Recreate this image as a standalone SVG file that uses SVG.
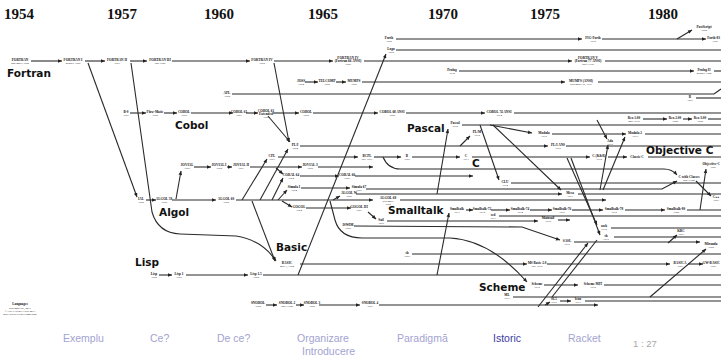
<svg xmlns="http://www.w3.org/2000/svg" width="721" height="358" viewBox="0 0 721 358">
<style>
.yr{font:bold 15px "Liberation Serif",serif;fill:#111}
.fam{font:bold 10.5px "DejaVu Sans",sans-serif;fill:#111}
.nm{font:bold 3.4px "Liberation Serif",serif;text-anchor:middle;fill:#111}
.dt{font:2.8px "Liberation Serif",serif;text-anchor:middle;fill:#222}
.end{text-anchor:end}
.ln{fill:none;stroke:#2a2a2a;stroke-width:1.1}
.la{fill:none;stroke:#2a2a2a;stroke-width:1.1;marker-end:url(#ah)}
.nav{font:10.5px "Liberation Sans",sans-serif;fill:#a3a3d1}
.cur{fill:#3b3b9e}
.pg{font:9.5px "Liberation Sans",sans-serif;fill:#a8a8a8}
</style>
<defs>
<marker id="ah" viewBox="0 0 10 10" refX="10" refY="5" markerWidth="5" markerHeight="4" markerUnits="userSpaceOnUse" orient="auto"><path d="M0,0.5 L10,5 L0,9.5 z" fill="#222"/></marker>
</defs>
<rect width="721" height="358" fill="#fff"/>

<g id="years">
<text class="yr" x="4" y="19">1954</text>
<text class="yr" x="107" y="19">1957</text>
<text class="yr" x="204" y="19">1960</text>
<text class="yr" x="308" y="19">1965</text>
<text class="yr" x="428" y="19">1970</text>
<text class="yr" x="530" y="19">1975</text>
<text class="yr" x="648" y="19">1980</text>
</g>

<g id="connectors">
<path class="la" d="M31,61H62"/><path class="la" d="M85,61H105"/><path class="la" d="M130,61H147"/><path class="la" d="M172,61H250"/><path class="la" d="M274,61H333"/><path class="la" d="M364,61H572"/><path class="ln" d="M605,61H721"/>
<path class="la" d="M396,39H582"/><path class="la" d="M602,39H706"/><path class="la" d="M677,39L692,30"/>
<path class="ln" d="M396,50H721"/>
<path class="la" d="M459,71H694"/><path class="ln" d="M714,71H721"/>
<path class="la" d="M305,82H318"/><path class="la" d="M336,82H346"/><path class="la" d="M362,82H565"/><path class="ln" d="M598,82H721"/>
<path class="ln" d="M232,94H714L721,89"/><path class="ln" d="M696,98H721"/>
<path class="la" d="M130,113H146"/><path class="la" d="M164,113H177"/><path class="la" d="M191,113H233"/><path class="la" d="M246,113H258"/><path class="la" d="M273,113H299"/><path class="la" d="M313,113H378"/><path class="la" d="M406,113H485"/><path class="ln" d="M514,113H721"/>
<path class="la" d="M643,119H667"/><path class="la" d="M683,119H692"/><path class="ln" d="M708,119H721"/>
<path class="ln" d="M462,125H721"/>
<path class="la" d="M490,125L532,133"/><path class="la" d="M480,125L499,180"/><path class="la" d="M493,125L561,190"/><path class="la" d="M597,120L607,139"/>
<path class="la" d="M552,134H626"/><path class="ln" d="M645,134H721"/>
<path class="la" d="M603,190L625,137"/><path class="la" d="M600,190L608,145"/>
<path class="la" d="M300,146H548"/><path class="ln" d="M566,146H721"/><path class="la" d="M460,146L470,136"/>
<path class="la" d="M274,63L289,142"/><path class="la" d="M268,116L290,142"/><path class="la" d="M260,200L288,149"/>
<path class="la" d="M278,157H358"/><path class="la" d="M374,157H401"/><path class="la" d="M412,157H460"/><path class="la" d="M472,157H590"/><path class="la" d="M608,157H627"/><path class="ln" d="M648,157H721"/>
<path class="la" d="M383,157Q388,169 400,169L664,169Q672,169 677,175"/>
<path class="la" d="M242,200L267,159"/>
<path class="la" d="M567,158L597,225"/><path class="la" d="M571,158L600,235"/>
<path class="la" d="M194,167H211"/><path class="la" d="M227,167H232"/><path class="la" d="M250,167H302"/><path class="la" d="M318,167H373"/>
<path class="la" d="M176,199L181,171"/>
<path class="la" d="M300,176H339"/><path class="la" d="M355,176H473"/>
<path class="la" d="M272,200L283,178"/><path class="la" d="M276,168L283,174"/>
<path class="ln" d="M511,183H721"/>
<path class="la" d="M301,188H350"/><path class="la" d="M366,189H662L677,181"/>
<path class="la" d="M278,200L287,190"/>
<path class="la" d="M356,194H562"/><path class="la" d="M437,194L448,129"/><path class="ln" d="M578,194H721"/>
<path class="la" d="M333,200L340,196"/>
<path class="la" d="M88,63L137,197"/>
<path class="la" d="M146,200H156"/><path class="la" d="M172,200H216"/><path class="la" d="M236,200H373"/><path class="la" d="M400,200H606"/>
<path class="la" d="M696,181L711,196"/>
<path class="la" d="M282,201L292,207"/><path class="la" d="M306,208H351"/><path class="la" d="M368,212L376,219"/>
<path class="la" d="M387,221H538"/><path class="la" d="M558,220H570"/>
<path class="la" d="M354,226L522,227L560,240"/>
<path class="ln" d="M499,216H721"/>
<path class="ln" d="M611,228H721"/><path class="ln" d="M614,237H721"/>
<path class="la" d="M574,242H700"/><path class="la" d="M668,243L677,235"/>
<path class="la" d="M466,210H473"/><path class="la" d="M491,210H510"/><path class="la" d="M530,210H552"/><path class="la" d="M572,210H603"/><path class="la" d="M625,210H665"/><path class="ln" d="M687,210H721"/>
<path class="la" d="M700,210L706,169"/>
<path class="la" d="M437,275L449,213"/>
<path class="la" d="M131,63L152,212Q158,233 180,234L236,236Q262,240 276,261"/>
<path class="la" d="M252,201L275,261"/>
<path class="la" d="M300,264H527"/><path class="la" d="M547,264H670"/><path class="la" d="M688,264H703"/>
<path class="ln" d="M412,254H721"/>
<path class="la" d="M159,275H172"/><path class="la" d="M186,275H248"/><path class="ln" d="M263,275H721"/>
<path class="la" d="M298,275L386,54"/>
<path class="la" d="M330,201L335,220Q340,238 362,238L450,238Q490,240 527,282"/>
<path class="la" d="M544,285H578"/><path class="ln" d="M604,285H721"/>
<path class="ln" d="M513,297H721"/>
<path class="la" d="M650,297L706,249"/>
<path class="la" d="M266,305H277"/><path class="la" d="M296,305H304"/><path class="la" d="M319,305H360"/><path class="la" d="M379,305H598"/>
<path class="la" d="M545,305L550,302"/><path class="la" d="M560,301H571"/><path class="ln" d="M585,301H721"/>
<path class="la" d="M538,307L588,243"/><path class="ln" d="M552,297L597,240"/>
</g>

<g id="families">
<text class="fam" x="7" y="77">Fortran</text>
<text class="fam" x="175" y="129">Cobol</text>
<text class="fam" x="159" y="216">Algol</text>
<text class="fam" x="135" y="266">Lisp</text>
<text class="fam" x="276" y="251">Basic</text>
<text class="fam" x="407" y="132">Pascal</text>
<text class="fam" x="472" y="167">C</text>
<text class="fam" x="388" y="214">Smalltalk</text>
<text class="fam" x="479" y="291">Scheme</text>
<text class="fam" x="646" y="154">Objective C</text>
</g>

<g id="n-fortran"><text class="nm" x="20" y="60.5">FORTRAN</text><text class="dt" x="20" y="63.5">november 1954</text></g>
<g id="n-fortran1"><text class="nm" x="73" y="60.5">FORTRAN I</text><text class="dt" x="73" y="63.5">october 1956</text></g>
<g id="n-fortran2"><text class="nm" x="117" y="60.5">FORTRAN II</text><text class="dt" x="117" y="63.5">1957</text></g>
<g id="n-fortran3"><text class="nm" x="160" y="60.5">FORTRAN III</text><text class="dt" x="160" y="63.5">end-1958</text></g>
<g id="n-fortran4"><text class="nm" x="262" y="60.5">FORTRAN IV</text><text class="dt" x="262" y="63.5">1962</text></g>
<g id="n-fortran66"><text class="nm" x="348" y="58.5">FORTRAN IV</text><text class="nm" x="348" y="61.5">(Fortran 66 ANSI)</text><text class="dt" x="348" y="64.5">1966</text></g>
<g id="n-fortran77"><text class="nm" x="588" y="58.5">FORTRAN V</text><text class="nm" x="588" y="61.5">(Fortran 77 ANSI)</text><text class="dt" x="588" y="64.5">april 1978</text></g>

<g id="n-forth"><text class="nm" x="389" y="38.5">Forth</text><text class="dt" x="389" y="41.5">1968</text></g>
<g id="n-figforth"><text class="nm" x="593" y="38.5">FIG-Forth</text><text class="dt" x="593" y="41.5">1978</text></g>
<g id="n-postscript"><text class="nm" x="704" y="28">PostScript</text><text class="dt" x="704" y="31">1982</text></g>
<g id="n-forth83"><text class="nm end" x="720" y="38.5">Forth-83</text><text class="dt end" x="718" y="41.5">1983</text></g>
<g id="n-logo"><text class="nm" x="391" y="49.5">Logo</text><text class="dt" x="391" y="52.5">1968</text></g>
<g id="n-prolog"><text class="nm" x="452" y="70.5">Prolog</text><text class="dt" x="452" y="73.5">1970</text></g>
<g id="n-prolog2"><text class="nm" x="704" y="70.5">Prolog II</text><text class="dt" x="704" y="73.5">october 1982</text></g>
<g id="n-joss"><text class="nm" x="301" y="81.5">JOSS</text><text class="dt" x="301" y="84.5">1964</text></g>
<g id="n-telcomp"><text class="nm" x="327" y="81.5">TELCOMP</text><text class="dt" x="327" y="84.5">1965</text></g>
<g id="n-mumps"><text class="nm" x="354" y="81.5">MUMPS</text><text class="dt" x="354" y="84.5">1966</text></g>
<g id="n-mumpsansi"><text class="nm" x="581" y="81.5">MUMPS (ANSI)</text><text class="dt" x="581" y="84.5">september 15, 1977</text></g>
<g id="n-apl"><text class="nm" x="227" y="93.5">APL</text><text class="dt" x="227" y="96.5">1960</text></g>
<g id="n-b81"><text class="nm" x="690" y="97.5">B</text><text class="dt" x="690" y="100.5">1981</text></g>

<g id="n-b0"><text class="nm" x="126" y="112.5">B-0</text><text class="dt" x="126" y="115.5">1957</text></g>
<g id="n-flowmatic"><text class="nm" x="155" y="112.5">Flow-Matic</text><text class="dt" x="155" y="115.5">1958</text></g>
<g id="n-cobol"><text class="nm" x="184" y="112.5">COBOL</text><text class="dt" x="184" y="115.5">1959</text></g>
<g id="n-cobol61"><text class="nm" x="239" y="112.5">COBOL 61</text><text class="dt" x="239" y="115.5">1961</text></g>
<g id="n-cobol61e"><text class="nm" x="266" y="111.5">COBOL 61</text><text class="nm" x="266" y="114.5">Extended</text><text class="dt" x="266" y="117.5">1962</text></g>
<g id="n-cobol65"><text class="nm" x="306" y="112.5">COBOL</text><text class="dt" x="306" y="115.5">1965</text></g>
<g id="n-cobol68"><text class="nm" x="392" y="112.5">COBOL 68 ANSI</text><text class="dt" x="392" y="115.5">1968</text></g>
<g id="n-cobol74"><text class="nm" x="499" y="112.5">COBOL 74 ANSI</text><text class="dt" x="499" y="115.5">1974</text></g>
<g id="n-rex1"><text class="nm" x="634" y="118.5">Rex 1.00</text><text class="dt" x="634" y="121.5">may 1979</text></g>
<g id="n-rex2"><text class="nm" x="675" y="118.5">Rex 2.00</text><text class="dt" x="675" y="121.5">1980</text></g>
<g id="n-rex3"><text class="nm" x="700" y="118.5">Rex 3.00</text><text class="dt" x="700" y="121.5">1982</text></g>

<g id="n-pascal"><text class="nm" x="455" y="124">Pascal</text><text class="dt" x="455" y="127">1970</text></g>
<g id="n-plm"><text class="nm" x="477" y="132.5">PL/M</text><text class="dt" x="477" y="135.5">1972</text></g>
<g id="n-modula"><text class="nm" x="544" y="133.5">Modula</text><text class="dt" x="544" y="136.5">1975</text></g>
<g id="n-modula2"><text class="nm" x="635" y="133.5">Modula 2</text><text class="dt" x="635" y="136.5">1979</text></g>
<g id="n-ada"><text class="nm" x="610" y="141.5">Ada</text><text class="dt" x="610" y="144.5">1979</text></g>
<g id="n-pli"><text class="nm" x="295" y="145.5">PL/I</text><text class="dt" x="295" y="148.5">1964</text></g>
<g id="n-pliansi"><text class="nm" x="558" y="145.5">PL/I ANS</text><text class="dt" x="558" y="148.5">1976</text></g>

<g id="n-cpl"><text class="nm" x="272" y="156.5">CPL</text><text class="dt" x="272" y="159.5">1963</text></g>
<g id="n-bcpl"><text class="nm" x="367" y="156.5">BCPL</text><text class="dt" x="367" y="159.5">july 1967</text></g>
<g id="n-b"><text class="nm" x="407" y="156.5">B</text><text class="dt" x="407" y="159.5">1969</text></g>
<g id="n-c"><text class="nm" x="466" y="156.5">C</text><text class="dt" x="466" y="159.5">1971</text></g>
<g id="n-ckr"><text class="nm" x="599" y="156.5">C (K&amp;R)</text><text class="dt" x="599" y="159.5">1978</text></g>
<g id="n-classicc"><text class="nm" x="637" y="158">Classic C</text></g>
<g id="n-cwc"><text class="nm" x="689" y="177.5">C with Classes</text><text class="dt" x="689" y="180.5">april 1980</text></g>
<g id="n-objc"><text class="nm end" x="720" y="164.5">Objective-C</text><text class="dt end" x="716" y="167.5">1983</text></g>
<g id="n-cpp"><text class="nm" x="716" y="197.5">C++</text><text class="dt" x="716" y="200.5">1983</text></g>

<g id="n-jovial"><text class="nm" x="187" y="166">JOVIAL</text><text class="dt" x="187" y="169">1959</text></g>
<g id="n-jovial1"><text class="nm" x="219" y="166">JOVIAL I</text><text class="dt" x="219" y="169">1960</text></g>
<g id="n-jovial2"><text class="nm" x="241" y="166">JOVIAL II</text><text class="dt" x="241" y="169">1961</text></g>
<g id="n-jovial3"><text class="nm" x="310" y="166">JOVIAL 3</text><text class="dt" x="310" y="169">1965</text></g>
<g id="n-coral64"><text class="nm" x="291" y="175.5">CORAL 64</text><text class="dt" x="291" y="178.5">1964</text></g>
<g id="n-coral66"><text class="nm" x="347" y="175.5">CORAL 66</text><text class="dt" x="347" y="178.5">1966</text></g>
<g id="n-clu"><text class="nm" x="505" y="182.5">CLU</text><text class="dt" x="505" y="185.5">1974</text></g>
<g id="n-simula1"><text class="nm" x="294" y="187.5">Simula I</text><text class="dt" x="294" y="190.5">1964</text></g>
<g id="n-simula67"><text class="nm" x="359" y="187.5">Simula 67</text><text class="dt" x="359" y="190.5">1967</text></g>
<g id="n-algolw"><text class="nm" x="349" y="193.5">ALGOL W</text><text class="dt" x="349" y="196.5">1966</text></g>
<g id="n-mesa"><text class="nm" x="570" y="193.5">Mesa</text><text class="dt" x="570" y="196.5">1977</text></g>

<g id="n-ial"><text class="nm" x="141" y="199.5">IAL</text><text class="dt" x="141" y="202.5">1958</text></g>
<g id="n-algol58"><text class="nm" x="164" y="199.5">ALGOL 58</text><text class="dt" x="164" y="202.5">1958</text></g>
<g id="n-algol60"><text class="nm" x="226" y="199.5">ALGOL 60</text><text class="dt" x="226" y="202.5">1960</text></g>
<g id="n-algol68"><text class="nm" x="388" y="198.5">ALGOL 68</text><text class="dt" x="388" y="201.5">december</text><text class="dt" x="388" y="204.5">1968</text></g>
<g id="n-gogol"><text class="nm" x="299" y="207.5">GOGOL</text><text class="dt" x="299" y="210.5">1964</text></g>
<g id="n-gogol3"><text class="nm" x="359" y="208">GOGOL III</text><text class="dt" x="359" y="211">1967</text></g>

<g id="n-st71"><text class="nm" x="457" y="209.5">Smalltalk</text><text class="dt" x="457" y="212.5">1971</text></g>
<g id="n-st72"><text class="nm" x="482" y="209.5">Smalltalk-72</text><text class="dt" x="482" y="212.5">1972</text></g>
<g id="n-st74"><text class="nm" x="520" y="209.5">Smalltalk-74</text><text class="dt" x="520" y="212.5">1974</text></g>
<g id="n-st76"><text class="nm" x="562" y="209.5">Smalltalk-76</text><text class="dt" x="562" y="212.5">1976</text></g>
<g id="n-st78"><text class="nm" x="614" y="209.5">Smalltalk-78</text><text class="dt" x="614" y="212.5">1978</text></g>
<g id="n-st80"><text class="nm" x="676" y="209.5">Smalltalk-80</text><text class="dt" x="676" y="212.5">1980</text></g>
<g id="n-sed"><text class="nm" x="493" y="215.5">sed</text><text class="dt" x="493" y="218.5">1973</text></g>
<g id="n-sail"><text class="nm" x="381" y="220.5">Sail</text><text class="dt" x="381" y="223.5">1969</text></g>
<g id="n-mainsail"><text class="nm" x="548" y="219">Mainsail</text><text class="dt" x="548" y="222">1975</text></g>
<g id="n-iswim"><text class="nm" x="348" y="225.5">ISWIM</text><text class="dt" x="348" y="228.5">1966</text></g>
<g id="n-awk"><text class="nm" x="604" y="226.5">awk</text><text class="dt" x="604" y="229.5">1978</text></g>
<g id="n-bsh"><text class="nm" x="606" y="236.5">sh</text><text class="dt" x="606" y="239.5">1979</text></g>
<g id="n-krc"><text class="nm" x="681" y="231.5">KRC</text><text class="dt" x="681" y="234.5">1981</text></g>
<g id="n-sasl"><text class="nm" x="567" y="241.5">SASL</text><text class="dt" x="567" y="244.5">1976</text></g>
<g id="n-miranda"><text class="nm" x="711" y="244.5">Miranda</text><text class="dt" x="711" y="247.5">1982</text></g>

<g id="n-basic"><text class="nm" x="287" y="263.5">BASIC</text><text class="dt" x="287" y="266.5">may 1, 1964</text></g>
<g id="n-sh"><text class="nm" x="407" y="253.5">sh</text><text class="dt" x="407" y="256.5">1969</text></g>
<g id="n-msbasic"><text class="nm" x="537" y="263.5">MS Basic 2.0</text><text class="dt" x="537" y="266.5">july 1975</text></g>
<g id="n-basica"><text class="nm" x="680" y="263.5">BASICA</text><text class="dt" x="680" y="266.5">1981</text></g>
<g id="n-gwbasic"><text class="nm end" x="720" y="263.5">GW-BASIC</text><text class="dt end" x="716" y="266.5">1983</text></g>

<g id="n-lisp"><text class="nm" x="154" y="274.5">Lisp</text><text class="dt" x="154" y="277.5">1958</text></g>
<g id="n-lisp1"><text class="nm" x="179" y="274.5">Lisp 1</text><text class="dt" x="179" y="277.5">1959</text></g>
<g id="n-lisp15"><text class="nm" x="256" y="274.5">Lisp 1.5</text><text class="dt" x="256" y="277.5">1962</text></g>
<g id="n-scheme"><text class="nm" x="537" y="284.5">Scheme</text><text class="dt" x="537" y="287.5">1975</text></g>
<g id="n-schememit"><text class="nm" x="593" y="284.5">Scheme MIT</text><text class="dt" x="593" y="287.5">1978</text></g>
<g id="n-ml"><text class="nm" x="507" y="296">ML</text><text class="dt" x="507" y="299">1973</text></g>

<g id="n-snobol"><text class="nm" x="258" y="303.5">SNOBOL</text><text class="dt" x="258" y="306.5">1962</text></g>
<g id="n-snobol2"><text class="nm" x="287" y="303.5">SNOBOL 2</text><text class="dt" x="287" y="306.5">april 1964</text></g>
<g id="n-snobol3"><text class="nm" x="312" y="303.5">SNOBOL 3</text><text class="dt" x="312" y="306.5">1965</text></g>
<g id="n-snobol4"><text class="nm" x="370" y="303.5">SNOBOL 4</text><text class="dt" x="370" y="306.5">1967</text></g>
<g id="n-sl5"><text class="nm" x="554" y="300">SL5</text><text class="dt" x="554" y="303">1976</text></g>
<g id="n-icon"><text class="nm" x="578" y="300">Icon</text><text class="dt" x="578" y="303">1977</text></g>

<g id="legend">
<text class="nm" x="20" y="305">Languages</text>
<text class="dt" x="20" y="308.5">september 23, 2013</text>
<text class="dt" x="20" y="311.5">© Éric Lévénez 1999-2013</text>
<text class="dt" x="20" y="314.5">http://www.levenez.com/lang/</text>
</g>

<g id="navigation">
<text class="nav" x="63" y="342">Exemplu</text>
<text class="nav" x="150" y="342">Ce?</text>
<text class="nav" x="217" y="342">De ce?</text>
<text class="nav" x="297" y="342">Organizare</text>
<text class="nav" x="302" y="355">Introducere</text>
<text class="nav" x="397" y="342">Paradigmă</text>
<text class="nav cur" x="493" y="342">Istoric</text>
<text class="nav" x="568" y="342">Racket</text>
<text class="pg" x="633" y="347">1 : 27</text>
</g>
</svg>
